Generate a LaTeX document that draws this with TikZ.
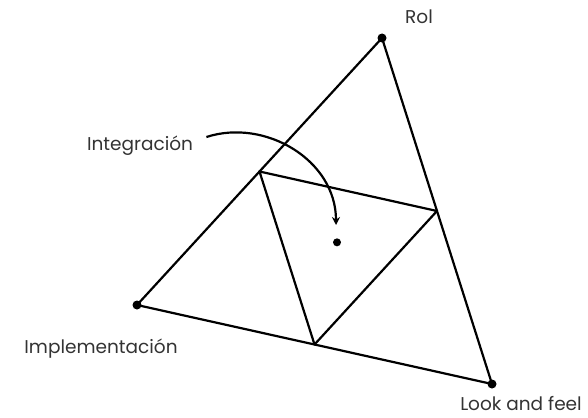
\documentclass[tikz,border=0pt]{standalone}
\usepackage{fontspec}
\setmainfont{Poppins}
\usetikzlibrary{calc, arrows.meta}

\begin{document}
\begin{tikzpicture}[x=1pt, y=-1pt, line width=2.2pt,
  lbl/.style={anchor=base, font=\fontsize{18.5}{22}\selectfont, text=black!80},
  vdot/.style={circle, fill=black, inner sep=0pt, minimum size=9pt}]
\useasboundingbox (0,0) rectangle (588,417);
% Outer vertices
\node[vdot] (rol) at (382,38) {};
\node[vdot] (impl) at (137,305) {};
\node[vdot] (look) at (492,384) {};
% Centre point
\node[vdot, minimum size=8pt] (mid) at ($ (rol)!0.5!(impl)!1/3!(look) $) {};
% Outer triangle
\draw[line join=round] (rol.center) -- (impl.center) -- (look.center) -- cycle;
% Inner triangle through midpoints
\coordinate (m1) at ($ (rol)!0.5!(impl) $);
\coordinate (m2) at ($ (rol)!0.5!(look) $);
\coordinate (m3) at ($ (impl)!0.5!(look) $);
\draw[line join=round] (m1) -- (m2) -- (m3) -- cycle;
% Labels
\node[lbl] (trol) at (419,24) {Rol};
\node[lbl] (timpl) at (101,353) {Implementación};
\node[lbl, inner ysep=1pt] (tlook) at (521,410) {Look and feel};
\node[lbl] (tint) at (140,150) {Integración};
% Arrow to centre
\coordinate (astart) at ($ (tint.base east) + (9,-13) $);
\draw[-{Stealth[length=8pt, width=8pt]}] (astart)
  .. controls (265,118) and (336,160) .. (336,225);
\end{tikzpicture}
\end{document}
